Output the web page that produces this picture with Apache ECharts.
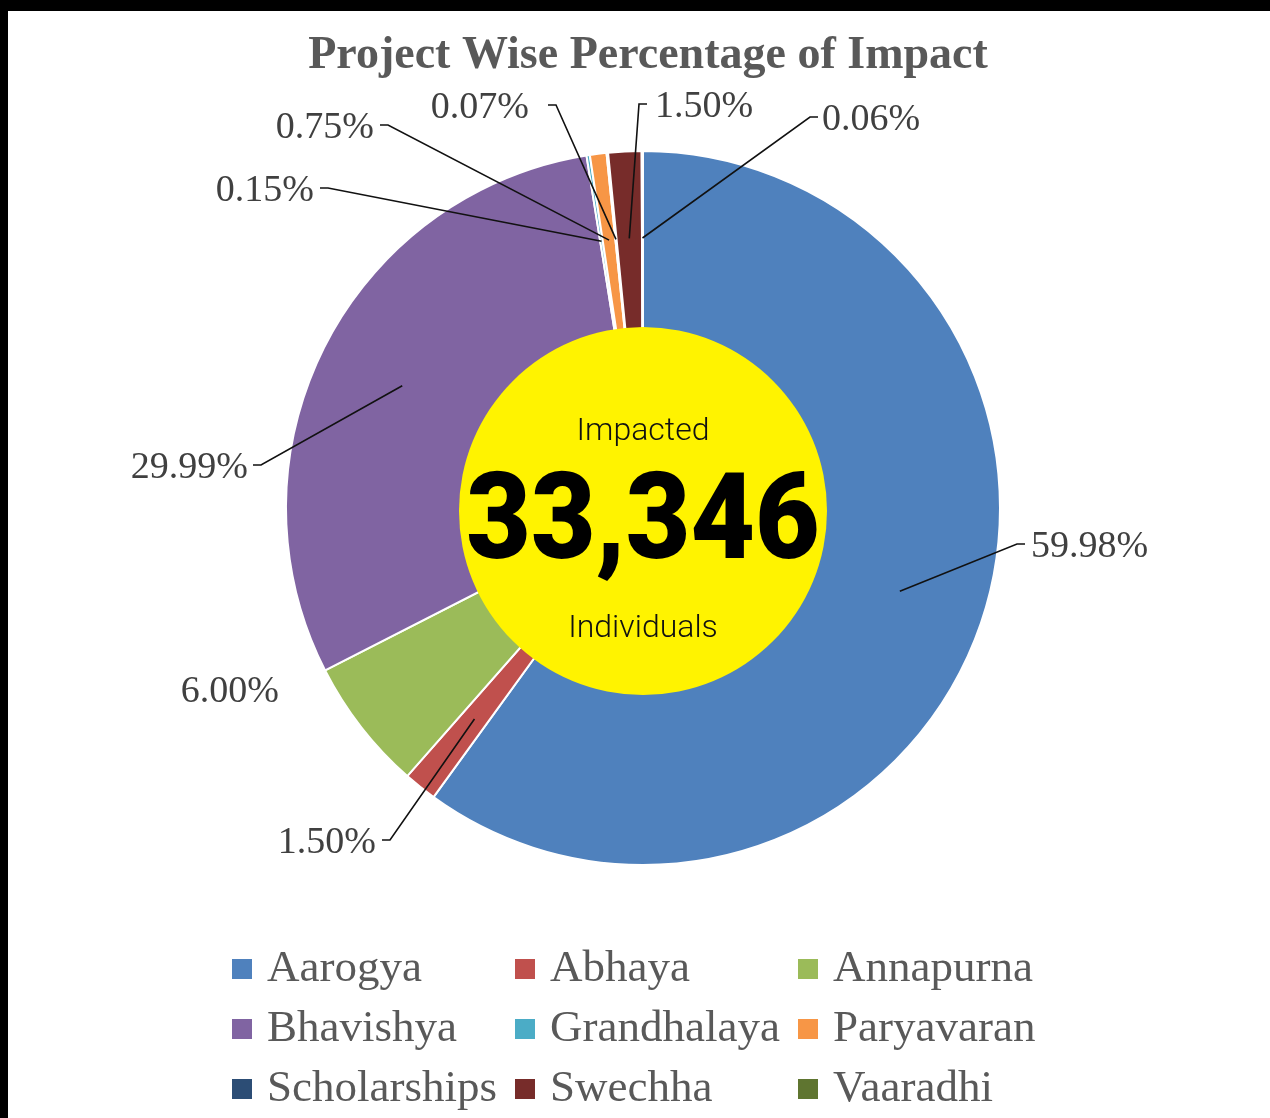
<!DOCTYPE html>
<html>
<head>
<meta charset="utf-8">
<script src="https://cdn.jsdelivr.net/npm/echarts@6/dist/echarts.min.js"></script>
<style>
html,body{margin:0;padding:0;background:#fff;}
#chart{position:absolute;left:0;top:0;width:1270px;height:1118px;background:#fff;}
.band{position:absolute;background:#000;z-index:5;}
</style>
</head>
<body>
<div id="chart"></div>
<div class="band" style="left:0;top:0;width:1270px;height:11px"></div>
<div class="band" style="left:0;top:0;width:8px;height:1118px"></div>
<script>
// ---- data ----
const projects = ['Aarogya','Abhaya','Annapurna','Bhavishya','Grandhalaya','Paryavaran','Scholarships','Swechha','Vaaradhi'];
const sharePercent = [59.98, 1.50, 6.00, 29.99, 0.15, 0.75, 0.07, 1.50, 0.06];
const projectColors = ['#4F81BD','#C0504D','#9BBB59','#8064A2','#4BACC6','#F79646','#2C4D75','#772C2A','#5F7530'];
const totalImpacted = 33346;
const centerTop = 'Impacted';
const centerBottom = 'Individuals';
const chartTitle = 'Project Wise Percentage of Impact';

// ---- layout ----
const CX = 643, CY = 508, R = 357, LINE_R = 270;
const labelSpots = [
  {x:1031, y:547, align:'left',  gap:6,  line:true},
  {x:376,  y:843, align:'right', gap:6,  line:true},
  {x:279,  y:692, align:'right', gap:0,  line:false},
  {x:248,  y:468, align:'right', gap:5,  line:true},
  {x:314,  y:191, align:'right', gap:6,  line:true},
  {x:374,  y:128, align:'right', gap:6,  line:true},
  {x:529,  y:108, align:'right', gap:19, line:true},
  {x:655,  y:107, align:'left',  gap:8,  line:true},
  {x:822,  y:120, align:'left',  gap:4,  line:true}
];

function fmtThousands(n){ return String(n).replace(/\B(?=(\d{3})+(?!\d))/g, ','); }

// mid-angle (clockwise from 12 o'clock) of each slice, derived from the data
const totalShare = sharePercent.reduce((a, b) => a + b, 0);
const midAngles = [];
(function(){
  let cum = 0;
  sharePercent.forEach(v => { midAngles.push((cum + v / 2) / totalShare * 2 * Math.PI); cum += v; });
})();

const chart = echarts.init(document.getElementById('chart'), null, {renderer:'canvas'});

const sliceData = projects.map((name, i) => ({ name: name, value: sharePercent[i], itemStyle: { color: projectColors[i] } }));
const labelData = projects.map((name, i) => {
  const d = { name: name, value: sharePercent[i] };
  if (!labelSpots[i].line) d.labelLine = { show: false };
  return d;
});

const option = {
  backgroundColor: '#ffffff',
  animation: false,
  title: {
    text: chartTitle,
    left: 643,
    top: 28,
    textAlign: 'center',
    textStyle: { fontFamily: 'Liberation Serif', fontWeight: 'bold', fontSize: 46, color: '#595959' }
  },
  legend: {
    data: projects,
    left: 232,
    top: 939,
    width: 860,
    padding: 0,
    itemGap: 0,
    itemWidth: 20,
    itemHeight: 20,
    icon: 'rect',
    selectedMode: false,
    itemStyle: { borderWidth: 0 },
    textStyle: { fontFamily: 'Liberation Serif', fontSize: 45, color: '#595959', width: 248, padding: [0,0,0,10], lineHeight: 60 }
  },
  series: [{
    type: 'pie',
    z: 2,
    center: [CX, CY],
    radius: [0, R],
    startAngle: 90,
    clockwise: true,
    silent: true,
    itemStyle: { borderColor: '#ffffff', borderWidth: 2 },
    label: { show: false },
    labelLine: { show: false },
    emphasis: { disabled: true },
    data: sliceData
  }, {
    type: 'pie',
    z: 5,
    center: [CX, CY],
    radius: [0, R],
    startAngle: 90,
    clockwise: true,
    avoidLabelOverlap: false,
    minShowLabelAngle: 0,
    silent: true,
    legendHoverLink: false,
    itemStyle: { color: 'rgba(0,0,0,0)', borderWidth: 0 },
    label: {
      show: true,
      position: 'outside',
      formatter: p => p.value.toFixed(2) + '%',
      fontFamily: 'Liberation Serif',
      fontSize: 38,
      color: '#404040'
    },
    labelLine: { show: true, lineStyle: { color: '#111111', width: 1.6, opacity: 1 } },
    labelLayout: function (p) {
      const s = labelSpots[p.dataIndex];
      const out = { x: s.x, y: s.y, align: s.align, verticalAlign: 'middle' };
      if (s.line) {
        const t = midAngles[p.dataIndex];
        const start = [CX + LINE_R * Math.sin(t), CY - LINE_R * Math.cos(t)];
        const dir = s.align === 'left' ? -1 : 1;
        const ly = s.y - 3;
        const end = [s.x + dir * s.gap, ly];
        const elbow = [end[0] + dir * 8, ly];
        out.labelLinePoints = [start, elbow, end];
      }
      return out;
    },
    emphasis: { disabled: true },
    data: labelData
  }],
  graphic: [
    { type: 'circle', z: 100, silent: true, shape: { cx: 643, cy: 511, r: 184 }, style: { fill: '#FFF300' } },
    { type: 'text', z: 101, silent: true, x: 643, y: 432,
      style: { text: centerTop, fontFamily: 'Roboto', fontWeight: 300, fontSize: 32, fill: '#111111', align: 'center', verticalAlign: 'middle' } },
    { type: 'text', z: 101, silent: true, x: 643, y: 528, scaleX: 0.93,
      style: { text: fmtThousands(totalImpacted), fontFamily: 'Roboto', fontWeight: 900, fontSize: 120, fill: '#000000', align: 'center', verticalAlign: 'middle' } },
    { type: 'text', z: 101, silent: true, x: 643, y: 629,
      style: { text: centerBottom, fontFamily: 'Roboto', fontWeight: 300, fontSize: 32, fill: '#111111', align: 'center', verticalAlign: 'middle' } }
  ]
};
chart.setOption(option);
</script>
</body>
</html>
